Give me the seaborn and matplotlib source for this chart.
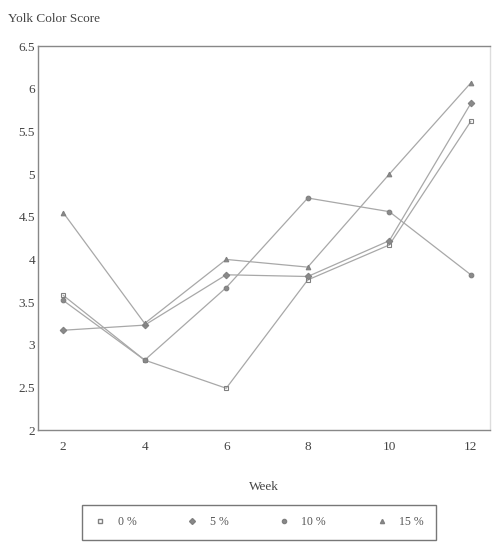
import pandas as pd
import matplotlib
matplotlib.use("Agg")
import matplotlib.pyplot as plt
import seaborn as sns
from matplotlib.lines import Line2D

weeks = [2, 4, 6, 8, 10, 12]
levels = ["0 %", "5 %", "10 %", "15 %"]
s0 = [3.58, 2.82, 2.49, 3.76, 4.17, 5.62]
s5 = [3.17, 3.23, 3.82, 3.80, 4.22, 5.83]
s10 = [3.52, 2.82, 3.67, 4.72, 4.56, 3.82]
s15 = [4.55, 3.25, 4.00, 3.91, 5.00, 6.07]

rows = []
for lab, vals in zip(levels, [s0, s5, s10, s15]):
    for w, v in zip(weeks, vals):
        rows.append({"Week": w, "Score": v, "Level": lab})
df = pd.DataFrame(rows)

sns.set_style("white")
plt.rcParams['font.family'] = ['Liberation Serif', 'DejaVu Serif']

fig = plt.figure(figsize=(4.98, 5.43), dpi=100)
ax = fig.add_axes([0.076, 0.208, 0.908, 0.707])

mk = {"0 %": "s", "5 %": "D", "10 %": "o", "15 %": "^"}
fills = {"0 %": "none", "5 %": "#8a8a8a", "10 %": "#8a8a8a", "15 %": "#8a8a8a"}
pal = {l: "#a8a8a8" for l in levels}

sns.lineplot(data=df, x="Week", y="Score", hue="Level", style="Level",
             markers=mk, dashes=False, palette=pal, linewidth=0.9,
             markersize=3.3, markeredgecolor="#808080", legend=False, ax=ax)
# open squares for 0 %
for line, lab in zip(ax.get_lines(), levels):
    line.set_markerfacecolor(fills[lab])
    line.set_markeredgewidth(0.8)

ax.set_xlim(1.38, 12.47)
ax.set_ylim(2, 6.5)
ax.set_xticks(weeks)
ax.set_yticks([2, 2.5, 3, 3.5, 4, 4.5, 5, 5.5, 6, 6.5])
ax.set_yticklabels(["2", "2.5", "3", "3.5", "4", "4.5", "5", "5.5", "6", "6.5"])
ax.tick_params(axis="y", direction="in", length=4, color="#777", labelsize=9.5,
               labelcolor="#444", pad=2)
ax.tick_params(axis="x", direction="out", length=5, color="#777", labelsize=9.5,
               labelcolor="#444", pad=3)
for sp in ax.spines.values():
    sp.set_color("#888")
    sp.set_linewidth(1.0)
ax.spines["right"].set_color("#ddd")

ax.set_xlabel("Week", fontsize=9.5, color="#444", labelpad=20)
ax.set_ylabel("")
fig.text(0.016, 0.965, "Yolk Color Score", fontsize=9.5, color="#444",
         ha="left", va="center")

handles = [Line2D([], [], linestyle="none", marker=mk[l], markersize=3,
                  markerfacecolor=fills[l], markeredgecolor="#808080")
           for l in levels]
fig.legend(handles, levels, loc="center", bbox_to_anchor=(0.52, 0.038),
           ncol=4, frameon=True, fancybox=False, edgecolor="#555",
           fontsize=8.5, labelcolor="#555", columnspacing=4.2,
           handletextpad=1.0, borderpad=1.0, borderaxespad=0,
           handlelength=1.0)

fig.savefig("out.png", dpi=100)
